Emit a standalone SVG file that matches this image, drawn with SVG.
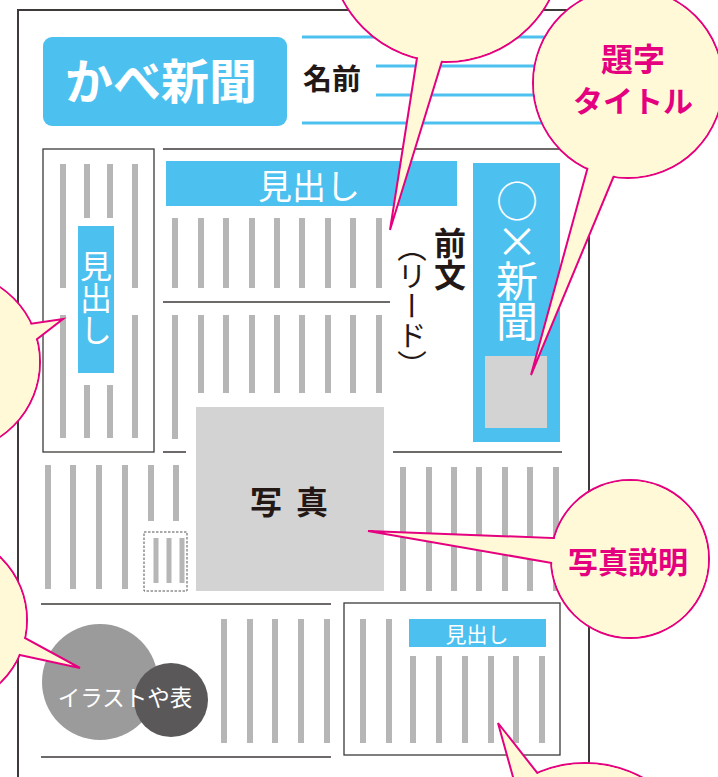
<svg xmlns="http://www.w3.org/2000/svg" width="718" height="777" viewBox="0 0 718 777">
<style>
  .bg{fill:#ffffff}
  .frame{fill:none;stroke:#3e3a39;stroke-width:2}
  .box{fill:none;stroke:#3e3a39;stroke-width:1.3}
  .sep{stroke:#3e3a39;stroke-width:1.5;fill:none}
  .gl{stroke:#b5b6b5;stroke-width:6;fill:none}
  .gls{stroke:#b5b6b5;stroke-width:5;fill:none}
  .blue{fill:#4cc1f0}
  .bline{stroke:#4cc1f0;stroke-width:3;fill:none}
  .photo{fill:#d3d3d3}
  .jp{font-family:"Noto Sans CJK JP","Noto Sans",sans-serif}
  .w{fill:#ffffff}
  .k{fill:#231815}
  .m{fill:#e4007f;font-weight:bold}
  .v{writing-mode:vertical-rl}
  .bub{fill:#fff9d7;stroke:#e4007f;stroke-width:2}
  .bubf{fill:#fff9d7;stroke:none}
</style>
<rect class="bg" x="0" y="0" width="718" height="777"/>

<g id="page">
  <rect class="frame" x="18" y="10" width="571" height="800"/>
</g>

<g id="header">
  <rect class="blue" x="43" y="37" width="244" height="89" rx="9"/>
  <text class="jp w" x="161" y="99" font-size="48" font-weight="bold" text-anchor="middle">かべ新聞</text>
</g>

<g id="name">
  <path class="bline" d="M302 37H566M376 66H566M376 95H566M302 123H566"/>
  <text class="jp k" x="303" y="90" font-size="29" font-weight="bold">名前</text>
</g>

<g id="separators">
  <path class="sep" d="M163 149H562M163 302H390M163 452H186M393 452H562M41 604H331M41 757H331"/>
</g>

<g id="left-column">
  <rect class="box" x="43" y="149" width="111" height="303"/>
  <path class="gl" d="M63 164V288M63 315V438M135 164V288M135 315V438M87 164V218M87 385V438M110 164V218M110 385V438"/>
  <rect class="blue" x="78" y="226" width="36" height="147"/>
  <text class="jp w v" x="96" y="250" font-size="32">見出し</text>
</g>

<g id="main-article">
  <rect class="blue" x="166" y="161" width="291" height="45"/>
  <text class="jp w" x="309" y="199" font-size="34" text-anchor="middle">見出し</text>
  <path class="gl" d="M175 218V288M201 218V288M226 218V288M252 218V288M277 218V288M302 218V288M328 218V288M353 218V288M379 218V288"/>
  <path class="gl" d="M175 315V439M201 315V393M226 315V393M252 315V393M277 315V393M302 315V393M328 315V393M353 315V393M379 315V393"/>
</g>

<g id="lead">
  <text class="jp k v" x="450" y="227" font-size="32" font-weight="bold">前文</text>
  <text class="jp k v" x="412" y="232" font-size="29.5">（リード）</text>
</g>

<g id="title-column">
  <rect class="blue" x="473" y="163" width="87" height="279"/>
  <text class="jp w v" x="517" y="180" font-size="42" letter-spacing="-2">○×新聞</text>
  <rect class="photo" x="485" y="356" width="62" height="72"/>
</g>

<g id="photo">
  <rect class="photo" x="196" y="407" width="188" height="184"/>
  <text class="jp k" x="266" y="514" font-size="32" font-weight="bold" text-anchor="middle">写</text>
  <text class="jp k" x="312" y="514" font-size="32" font-weight="bold" text-anchor="middle">真</text>
</g>

<g id="right-of-photo">
  <path class="gl" d="M403 467V591M429 467V591M454 467V591M479 467V591M505 467V591M530 467V591M556 467V591"/>
</g>

<g id="bottom-left-article">
  <path class="gl" d="M48 465V589M73 465V589M99 465V589M125 465V589M151 465V521M176 465V521"/>
  <rect x="144" y="532" width="43" height="59" fill="none" stroke="#555" stroke-width="1" stroke-dasharray="2.5 1.5"/>
  <path class="gls" d="M156 538V583M169 538V583M182 538V583"/>
</g>

<g id="illustration">
  <circle cx="100" cy="682" r="58" fill="#9b9b9b"/>
  <circle cx="171" cy="700" r="37" fill="#5a5859"/>
  <text class="jp w" x="125" y="706" font-size="22.5" text-anchor="middle">イラストや表</text>
</g>

<g id="bottom-mid">
  <path class="gl" d="M224 619V743M250 619V743M275 619V743M301 619V743M327 619V743"/>
</g>

<g id="bottom-right-article">
  <rect class="box" x="344" y="603" width="216" height="152"/>
  <path class="gl" d="M363 619V743M389 619V743M413 656V743M439 656V743M465 656V743M491 656V743M516 656V743M542 656V743"/>
  <rect class="blue" x="409" y="619" width="137" height="28"/>
  <text class="jp w" x="477" y="642" font-size="21" text-anchor="middle">見出し</text>
</g>

<g id="callouts">
  <g id="callout-lead">
    <circle class="bub" cx="446" cy="-55" r="117"/>
    <polygon class="bub" points="419.8,40 448.5,40 390,230"/>
    <circle class="bubf" cx="446" cy="-55" r="116"/>
  </g>
  <g id="callout-title">
    <circle class="bub" cx="628" cy="83" r="95"/>
    <polygon class="bub" points="592.5,150 624.7,150 531,375"/>
    <circle class="bubf" cx="628" cy="83" r="94"/>
    <text class="jp m" x="633" y="71" font-size="32" text-anchor="middle">題字</text>
    <text class="jp m" x="633" y="112" font-size="30" text-anchor="middle">タイトル</text>
  </g>
  <g id="callout-left">
    <circle class="bub" cx="-50" cy="362" r="90"/>
    <polygon class="bub" points="10,326.8 10,360 63,319"/>
    <circle class="bubf" cx="-50" cy="362" r="89"/>
  </g>
  <g id="callout-illust">
    <circle class="bub" cx="-60" cy="620" r="87"/>
    <polygon class="bub" points="0,624.4 0,650.7 80,668"/>
    <circle class="bubf" cx="-60" cy="620" r="86"/>
  </g>
  <g id="callout-caption">
    <circle class="bub" cx="630" cy="559" r="79"/>
    <polygon class="bub" points="580,539.1 580,567.9 368,531"/>
    <circle class="bubf" cx="630" cy="559" r="78"/>
    <text class="jp m" x="628" y="573" font-size="30" text-anchor="middle">写真説明</text>
  </g>
  <g id="callout-bottom">
    <circle class="bub" cx="585" cy="883" r="120"/>
    <polygon class="bub" points="519.4,800 558.6,800 498,723"/>
    <circle class="bubf" cx="585" cy="883" r="119"/>
  </g>
</g>
</svg>
